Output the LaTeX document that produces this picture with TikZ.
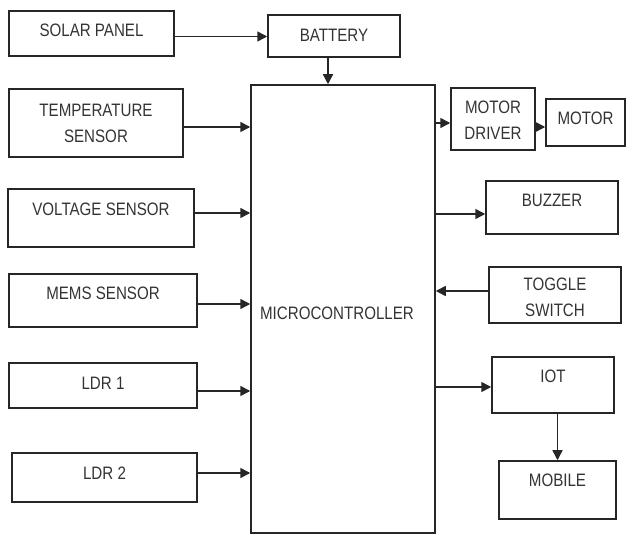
\documentclass[tikz,border=0pt]{standalone}
\usepackage{fontspec}
\setmainfont[FakeStretch=0.84]{Liberation Sans}
\usetikzlibrary{arrows.meta}

\begin{document}
\begin{tikzpicture}[x=1pt, y=-1pt,
    blk/.style={draw=black!85, line width=1.5pt, rectangle, inner sep=0pt},
    txt/.style={text=black!80, align=center, inner sep=0pt,
        font=\fontsize{18}{26}\selectfont},
    arr/.style={draw=black!85, line width=1.5pt, -{Triangle[length=10pt,width=10pt]}}]
\useasboundingbox (0,0) rectangle (627,534);
\node[blk, minimum width=165, minimum height=45] (solar) at (91.5,33.5) {};
\node[blk, minimum width=132, minimum height=42] (battery) at (334,36) {};
\node[blk, minimum width=174, minimum height=68] (temp) at (96,123) {};
\node[blk, minimum width=186, minimum height=58] (volt) at (101,218) {};
\node[blk, minimum width=188, minimum height=53] (mems) at (103,300.5) {};
\node[blk, minimum width=188, minimum height=45] (ldr1) at (103,385.5) {};
\node[blk, minimum width=185, minimum height=49] (ldr2) at (104.5,477.5) {};
\node[blk, minimum width=184, minimum height=448] (mcu) at (343,309) {};
\node[blk, minimum width=84, minimum height=62] (driver) at (493,119) {};
\node[blk, minimum width=79, minimum height=47] (motor) at (585.5,122.5) {};
\node[blk, minimum width=132, minimum height=53] (buzzer) at (552,207.5) {};
\node[blk, minimum width=132, minimum height=56] (toggle) at (555,295) {};
\node[blk, minimum width=122, minimum height=56] (iot) at (553,385) {};
\node[blk, minimum width=117, minimum height=58] (mobile) at (557.5,490) {};
\node[txt] (solar-t) at ([yshift=3]solar.center) {SOLAR PANEL};
\node[txt] (battery-t) at ([yshift=1]battery.center) {BATTERY};
\node[txt] (temp-t) at ([yshift=0]temp.center) {TEMPERATURE\\SENSOR};
\node[txt] (volt-t) at ([yshift=9]volt.center) {VOLTAGE SENSOR};
\node[txt] (mems-t) at ([yshift=7.5]mems.center) {MEMS SENSOR};
\node[txt] (ldr1-t) at ([yshift=2.5]ldr1.center) {LDR 1};
\node[txt] (ldr2-t) at ([yshift=4.5]ldr2.center) {LDR 2};
\node[txt] (mcu-t) at ([xshift=-6,yshift=-4]mcu.center) {MICROCONTROLLER};
\node[txt] (driver-t) at ([yshift=-1.5]driver.center) {MOTOR\\DRIVER};
\node[txt] (motor-t) at ([yshift=4]motor.center) {MOTOR};
\node[txt] (buzzer-t) at ([yshift=7.5]buzzer.center) {BUZZER};
\node[txt] (toggle-t) at ([yshift=-2.5]toggle.center) {TOGGLE\\SWITCH};
\node[txt] (iot-t) at ([yshift=8.5]iot.center) {IOT};
\node[txt] (mobile-t) at ([yshift=10]mobile.center) {MOBILE};
\draw[arr] ([yshift=-3]solar.east) -- ([yshift=-3]solar.east -| battery.west);
\draw[arr] ([xshift=-6]battery.south) -- ([xshift=-6]battery.south |- mcu.north);
\draw[arr] ([yshift=-4]temp.east) -- ([yshift=-4]temp.east -| mcu.west);
\draw[arr] ([yshift=5]volt.east) -- ([yshift=5]volt.east -| mcu.west);
\draw[arr] ([yshift=-3.5]mems.east) -- ([yshift=-3.5]mems.east -| mcu.west);
\draw[arr] ([yshift=-5.5]ldr1.east) -- ([yshift=-5.5]ldr1.east -| mcu.west);
\draw[arr] ([yshift=4.5]ldr2.east) -- ([yshift=4.5]ldr2.east -| mcu.west);
\draw[arr] ([yshift=-4]driver.west -| mcu.east) -- ([yshift=-4]driver.west);
\draw[arr] ([yshift=-4.5]motor.west -| driver.east) -- ([yshift=-4.5]motor.west);
\draw[arr] ([yshift=-6.5]buzzer.west -| mcu.east) -- ([yshift=-6.5]buzzer.west);
\draw[arr] ([yshift=4]toggle.west) -- ([yshift=4]toggle.west -| mcu.east);
\draw[arr] ([yshift=-2]iot.west -| mcu.east) -- ([yshift=-2]iot.west);
\draw[arr] (iot.south -| mobile.north) -- (mobile.north);
\end{tikzpicture}
\end{document}
